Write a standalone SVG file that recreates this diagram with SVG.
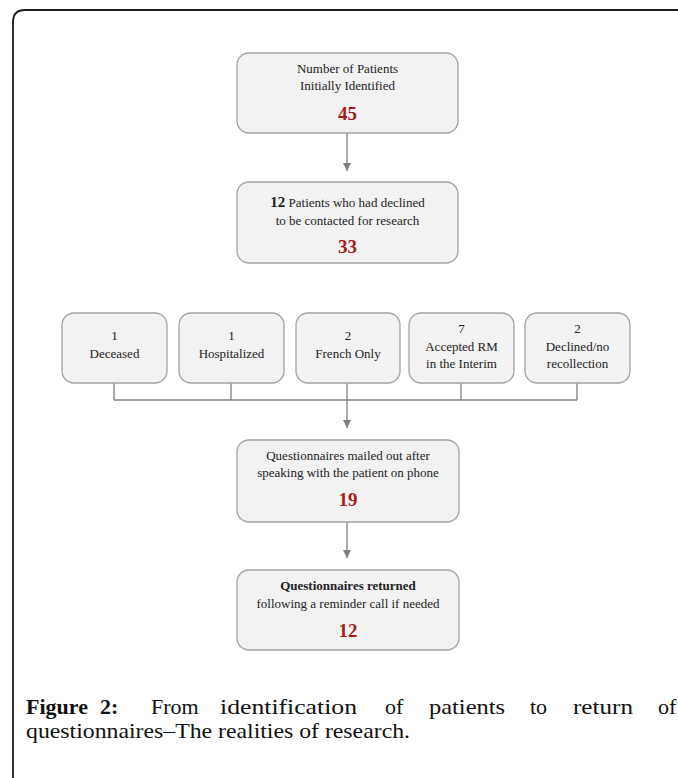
<svg xmlns="http://www.w3.org/2000/svg" width="678" height="778" viewBox="0 0 678 778">
<defs>
<style>
.box{fill:#f2f2f2;stroke:#a3a3a3;stroke-width:1.3}
.t{font-family:"Liberation Serif","Times New Roman",serif;font-size:13px;fill:#222;text-anchor:middle}
.b{font-weight:bold}
.num{font-family:"Liberation Serif","Times New Roman",serif;font-size:19px;font-weight:bold;fill:#a51c1c;text-anchor:middle}
.conn{stroke:#7f7f7f;stroke-width:1.3;fill:none}
.cap{font-family:"Liberation Serif","Times New Roman",serif;font-size:22px;fill:#111}
</style>
<marker id="ah" markerWidth="8" markerHeight="8" refX="8" refY="4" orient="auto" markerUnits="userSpaceOnUse">
<path d="M0,0 L8,4 L0,8 z" fill="#7f7f7f"/>
</marker>
</defs>
<rect width="678" height="778" fill="#fff"/>
<path d="M13,778 L13,22 Q13,10 25,10 L678,10" fill="none" stroke="#1a1a1a" stroke-width="1.8"/>

<g id="connectors">
<line class="conn" x1="347" y1="133" x2="347" y2="171" marker-end="url(#ah)"/>
<line class="conn" x1="114" y1="383" x2="114" y2="400"/>
<line class="conn" x1="231" y1="383" x2="231" y2="400"/>
<line class="conn" x1="461" y1="383" x2="461" y2="400"/>
<line class="conn" x1="577" y1="383" x2="577" y2="400"/>
<line class="conn" x1="114" y1="400" x2="577" y2="400"/>
<line class="conn" x1="347" y1="383" x2="347" y2="428" marker-end="url(#ah)"/>
<line class="conn" x1="347" y1="522" x2="347" y2="558" marker-end="url(#ah)"/>
</g>

<g id="n1">
<rect class="box" x="237" y="53" width="221" height="80" rx="12"/>
<text class="t" x="347.5" y="73">Number of Patients</text>
<text class="t" x="347.5" y="90">Initially Identified</text>
<text class="num" x="347.5" y="120">45</text>
</g>
<g id="n2">
<rect class="box" x="237" y="182" width="221" height="81" rx="12"/>
<text class="t" x="347.5" y="207"><tspan class="b" font-size="15">12</tspan> Patients who had declined</text>
<text class="t" x="347.5" y="225">to be contacted for research</text>
<text class="num" x="347.5" y="253">33</text>
</g>
<g id="n3">
<rect class="box" x="62" y="313" width="105" height="70" rx="12"/>
<text class="t" x="114.5" y="340">1</text>
<text class="t" x="114.5" y="358">Deceased</text>
</g>
<g id="n4">
<rect class="box" x="179" y="313" width="105" height="70" rx="12"/>
<text class="t" x="231.5" y="340">1</text>
<text class="t" x="231.5" y="358">Hospitalized</text>
</g>
<g id="n5">
<rect class="box" x="296" y="313" width="104" height="70" rx="12"/>
<text class="t" x="348" y="340">2</text>
<text class="t" x="348" y="358">French Only</text>
</g>
<g id="n6">
<rect class="box" x="409" y="313" width="105" height="70" rx="12"/>
<text class="t" x="461.5" y="333">7</text>
<text class="t" x="461.5" y="351">Accepted RM</text>
<text class="t" x="461.5" y="368">in the Interim</text>
</g>
<g id="n7">
<rect class="box" x="525" y="313" width="105" height="70" rx="12"/>
<text class="t" x="577.5" y="333">2</text>
<text class="t" x="577.5" y="351">Declined/no</text>
<text class="t" x="577.5" y="368">recollection</text>
</g>
<g id="n8">
<rect class="box" x="237" y="440" width="222" height="82" rx="12"/>
<text class="t" x="348" y="460">Questionnaires mailed out after</text>
<text class="t" x="348" y="477">speaking with the patient on phone</text>
<text class="num" x="348" y="506">19</text>
</g>
<g id="n9">
<rect class="box" x="237" y="570" width="222" height="80" rx="12"/>
<text class="t b" x="348" y="590" font-size="14">Questionnaires returned</text>
<text class="t" x="348" y="608">following a reminder call if needed</text>
<text class="num" x="348" y="637">12</text>
</g>

<g id="caption">
<text class="cap" font-weight="bold" x="26" y="714">Figure</text>
<text class="cap" font-weight="bold" x="100" y="714">2:</text>
<text class="cap" x="151" y="714">From</text>
<text class="cap" x="220" y="714" textLength="137" lengthAdjust="spacingAndGlyphs">identification</text>
<text class="cap" x="385" y="714">of</text>
<text class="cap" x="429" y="714" textLength="76" lengthAdjust="spacingAndGlyphs">patients</text>
<text class="cap" x="530" y="714">to</text>
<text class="cap" x="573" y="714" textLength="60" lengthAdjust="spacingAndGlyphs">return</text>
<text class="cap" x="658" y="714">of</text>
<text class="cap" x="26" y="738" textLength="384" lengthAdjust="spacingAndGlyphs">questionnaires–The realities of research.</text>
</g>
</svg>
